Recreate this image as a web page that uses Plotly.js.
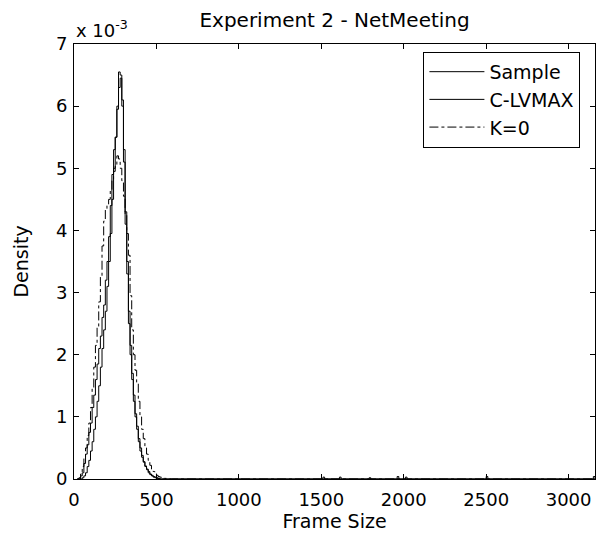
<!DOCTYPE html>
<html>
<head>
<meta charset="utf-8">
<script src="https://cdn.plot.ly/plotly-3.0.1.min.js"></script>
<style>html,body{margin:0;padding:0;background:#fff;}#chart{width:605px;height:539px;}</style>
</head>
<body>
<div id="chart"></div>
<script>
// Frame size grid (bytes) for the main body of the densities
const frameSize = [20,30,40,50,60,70,80,90,100,110,120,130,140,150,160,170,180,190,200,210,220,230,240,250,260,270,280,290,300,310,320,330,340,350,360,370,380,390,400,410,420,430,440,450,460,470,480,490,500,510,520,530,540,550,560,570,580,590,600];
// Density values in units of 1e-3
const sampleDensity = [0,0,0.05,0.1,0.25,0.4,0.55,0.75,0.9,1.15,1.35,1.6,1.85,2.1,2.3,2.6,2.8,3.2,3.5,3.9,4.4,4.9,5.3,5.5,6.0,6.55,6.5,6.0,5.1,4.1,3.3,2.5,2.0,1.6,1.25,1.0,0.8,0.6,0.45,0.35,0.27,0.2,0.15,0.1,0.07,0.05,0.03,0.02,0.01,0.01,0,0,0,0,0,0,0,0,0];
const clvmaxDensity = [0,0,0,0.02,0.05,0.1,0.2,0.3,0.45,0.6,0.8,1.0,1.25,1.5,1.8,2.1,2.4,2.7,3.1,3.5,3.95,4.5,5.0,5.5,5.95,6.3,6.45,6.1,5.3,4.3,3.5,2.7,2.15,1.7,1.35,1.05,0.85,0.65,0.5,0.38,0.28,0.21,0.16,0.12,0.08,0.06,0.04,0.03,0.02,0.01,0,0,0,0,0,0,0,0,0];
const k0Density = [0,0.02,0.08,0.2,0.35,0.5,0.7,0.9,1.15,1.45,1.8,2.15,2.45,2.85,3.25,3.75,4.15,4.35,4.4,4.5,4.65,4.8,4.95,5.05,5.2,5.15,5.0,4.8,4.55,4.25,3.95,3.6,2.95,2.4,2.0,1.75,1.55,1.25,1.0,0.8,0.65,0.5,0.4,0.3,0.22,0.16,0.12,0.09,0.06,0.04,0.03,0.02,0.01,0.01,0,0,0,0,0];
// Sparse far tail of the sample (large frames)
const tailFrame = [1500,1510,1520,1600,1610,1620,1780,1790,1800,1950,1960,1970,2000,2010,2020,2490,2500,2510,3140,3150,3160];
const tailDensity = [0,0.03,0,0,0.03,0,0,0.02,0,0,0.04,0,0,0.03,0,0,0.04,0,0,0.04,0];
const seriesNames = ['Sample','C-LVMAX','K=0'];
const xTicks = [0,500,1000,1500,2000,2500,3000];
const yTicks = [0,1,2,3,4,5,6,7];

const font = {family: 'DejaVu Sans, sans-serif', size: 18, color: '#000'};
const traces = [
  {x: frameSize.concat(tailFrame), y: sampleDensity.concat(tailDensity), name: seriesNames[0], mode: 'lines',
   line: {color: '#000', width: 1, shape: 'hv'}},
  {x: frameSize.concat([3160]), y: clvmaxDensity.concat([0]), name: seriesNames[1], mode: 'lines',
   line: {color: '#000', width: 1, shape: 'hv'}},
  {x: frameSize.concat([3160]), y: k0Density.concat([0]), name: seriesNames[2], mode: 'lines',
   line: {color: '#000', width: 1, shape: 'hv', dash: 'dashdot'}}
];
const axisCommon = {showgrid: false, zeroline: false, showline: true, linecolor: '#000', linewidth: 1,
  mirror: 'ticks', ticks: 'inside', ticklen: 5, tickcolor: '#000', tickfont: font};
const layout = {
  width: 605, height: 539,
  margin: {l: 74, r: 10, t: 44, b: 60},
  paper_bgcolor: '#fff', plot_bgcolor: '#fff',
  font: font,
  showlegend: true,
  title: {text: 'Experiment 2 - NetMeeting', font: Object.assign({}, font, {size: 20}), x: 0.553, xanchor: 'center', y: 0.963, yanchor: 'middle'},
  xaxis: Object.assign({}, axisCommon, {range: [0, 3160], tickvals: xTicks, ticktext: xTicks.map(String),
    ticklabelstandoff: 4, title: {text: 'Frame Size', font: Object.assign({}, font, {size: 19}), standoff: 2}}),
  yaxis: Object.assign({}, axisCommon, {range: [0, 7], tickvals: yTicks, ticktext: yTicks.map(String),
    ticklabelstandoff: 2, title: {text: 'Density', font: Object.assign({}, font, {size: 19}), standoff: 22}}),
  legend: {x: 0.972, y: 0.982, xanchor: 'right', yanchor: 'top', bgcolor: '#fff', bordercolor: '#000', borderwidth: 1,
    font: Object.assign({}, font, {size: 19}), itemwidth: 55, tracegroupgap: 0},
  annotations: [{xref: 'paper', yref: 'paper', x: 0, y: 1, xanchor: 'left', yanchor: 'bottom', yshift: 1,
    text: 'x 10<sup>-3</sup>', showarrow: false, font: font}]
};
Plotly.newPlot('chart', traces, layout, {displayModeBar: false, staticPlot: true});
</script>
</body>
</html>
